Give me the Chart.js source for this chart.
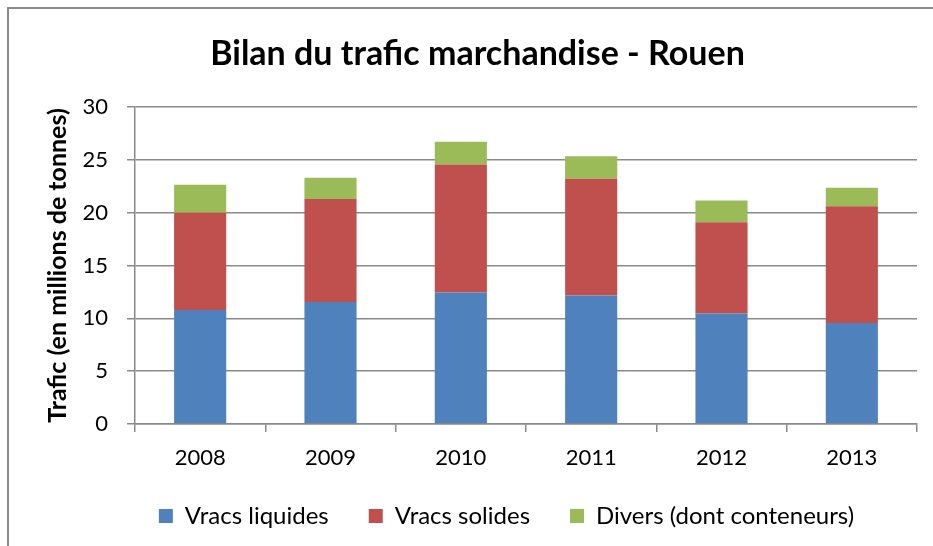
<!DOCTYPE html>
<html>
<head>
<meta charset="utf-8">
<script src="https://cdn.jsdelivr.net/npm/chart.js@4/dist/chart.umd.min.js"></script>
<style>
  html, body { margin: 0; padding: 0; background: #fff; overflow: hidden; }
  #wrap { position: relative; width: 933px; height: 546px; }
  #frame { position: absolute; left: 7px; top: 7px; width: 1000px; height: 1000px;
           border: 2px solid #8c8c8c; box-sizing: border-box; }
  canvas { position: absolute; left: 0; top: 0; }
</style>
</head>
<body>
<div id="wrap">
  <div id="frame"></div>
  <canvas id="c" width="933" height="546"></canvas>
</div>
<script>
const categories = ['2008', '2009', '2010', '2011', '2012', '2013'];
const vracsLiquides = [10.8, 11.55, 12.45, 12.15, 10.45, 9.55];
const vracsSolides  = [9.2, 9.75, 12.1, 11.05, 8.65, 11.05];
const divers        = [2.65, 2.0, 2.15, 2.15, 2.05, 1.75];
const seriesNames = ['Vracs liquides', 'Vracs solides', 'Divers (dont conteneurs)'];
const titleText = 'Bilan du trafic marchandise - Rouen';
const yAxisTitle = 'Trafic (en millions de tonnes)';

const FONT = 'Lato, "Open Sans", sans-serif';
const GRID = '#8a8a8a';

const shiftPlugin = {
  id: 'shiftBoxes',
  afterLayout(chart) {
    const t = chart.titleBlock;
    if (t) { t.left += 19; t.right += 19; }
    const l = chart.legend;
    if (l) { l.left += 48; l.right += 48; l.top -= 8; l.bottom -= 8; }
  }
};

new Chart(document.getElementById('c'), {
  type: 'bar',
  data: {
    labels: categories,
    datasets: [
      { label: seriesNames[0], data: vracsLiquides, backgroundColor: '#4F81BD' },
      { label: seriesNames[1], data: vracsSolides,  backgroundColor: '#C0504D' },
      { label: seriesNames[2], data: divers,        backgroundColor: '#9BBB59' }
    ]
  },
  plugins: [shiftPlugin],
  options: {
    responsive: false,
    animation: false,
    devicePixelRatio: 1,
    layout: { padding: { left: 0, right: 16, top: 0, bottom: 0 } },
    datasets: { bar: { categoryPercentage: 1.0, barPercentage: 0.4, borderWidth: 0 } },
    plugins: {
      title: {
        display: true, text: titleText, color: '#000',
        font: { family: FONT, size: 34, weight: 'bold', lineHeight: 1.2 },
        padding: { top: 34, bottom: 32.2 }
      },
      legend: {
        position: 'bottom',
        labels: {
          color: '#000',
          font: { family: FONT, size: 24 },
          boxWidth: 14, boxHeight: 14,
          padding: 40
        }
      },
      tooltip: { enabled: false }
    },
    scales: {
      x: {
        stacked: true,
        afterFit(s) { s.height = 48; },
        grid: { display: true, drawOnChartArea: false, drawTicks: true, tickLength: 8, color: GRID, lineWidth: 1.5, offset: true },
        border: { display: true, color: GRID, width: 1.5 },
        ticks: { color: '#000', font: { family: FONT, size: 22 }, padding: 13 }
      },
      y: {
        stacked: true,
        min: 0, max: 30,
        afterFit(s) { s.width = 135; },
        grid: { color: GRID, lineWidth: 1.5, drawTicks: true, tickLength: 8 },
        border: { display: true, color: GRID, width: 1.5 },
        ticks: { stepSize: 5, color: '#000', font: { family: FONT, size: 22 }, padding: 19 },
        title: {
          display: true, text: yAxisTitle, color: '#000',
          font: { family: FONT, size: 25, weight: 'bold', lineHeight: 1.2 },
          padding: { top: 43, bottom: 0 }
        }
      }
    }
  }
});
</script>
</body>
</html>
